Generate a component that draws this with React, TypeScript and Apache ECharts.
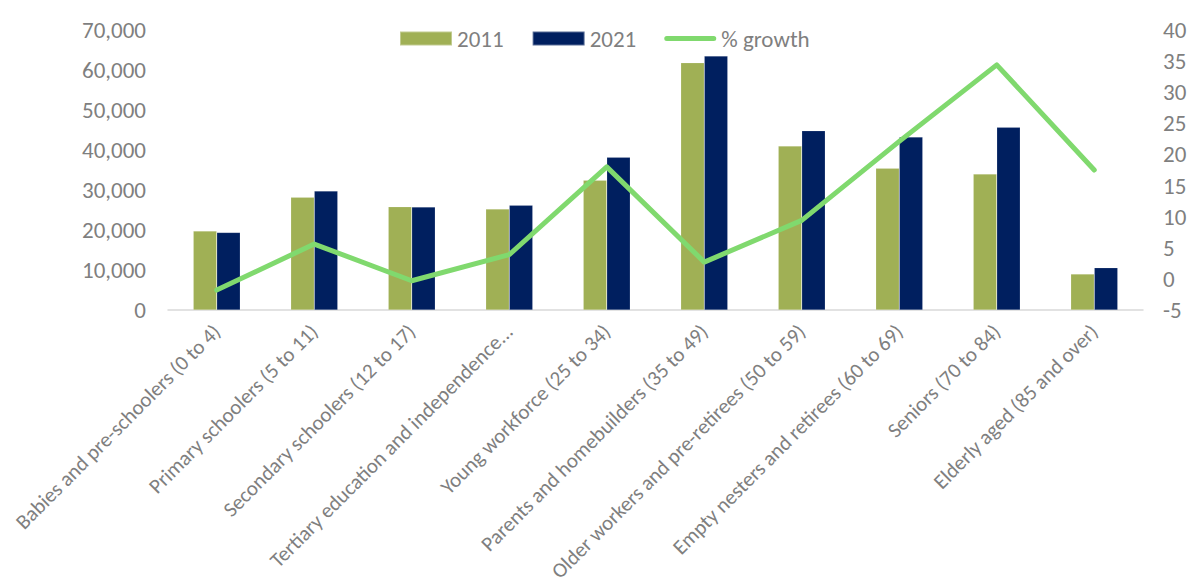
import React, { useEffect, useRef } from "react";
import * as echarts from "echarts";

const categories: string[] = [
  "Babies and pre-schoolers (0 to 4)",
  "Primary schoolers (5 to 11)",
  "Secondary schoolers (12 to 17)",
  "Tertiary education and independence (18 to 24)",
  "Young workforce (25 to 34)",
  "Parents and homebuilders (35 to 49)",
  "Older workers and pre-retirees (50 to 59)",
  "Empty nesters and retirees (60 to 69)",
  "Seniors (70 to 84)",
  "Elderly aged (85 and over)",
];

const values2011: number[] = [19750, 28170, 25830, 25250, 32420, 61830, 41000, 35420, 34000, 9000];
const values2021: number[] = [19400, 29750, 25750, 26170, 38170, 63500, 44830, 43250, 45670, 10580];
const growth: number[] = [-1.8, 5.6, -0.3, 3.9, 18.0, 2.7, 9.4, 22.1, 34.4, 17.5];

const leftTicks = { min: 0, max: 70000, interval: 10000 };
const rightTicks = { min: -5, max: 40, interval: 5 };

const FONT = "Carlito, Calibri, 'Open Sans', sans-serif";
const GRAY = "#7f7f7f";
const LINE_ICON = "path://M2.5,0 H49.5 A2.5,2.5 0 0 1 49.5,5 H2.5 A2.5,2.5 0 0 1 2.5,0 Z";

export default function App() {
  const ref = useRef<HTMLDivElement>(null);

  useEffect(() => {
    document.body.style.margin = "0";
    if (!ref.current) return;
    const chart = echarts.init(ref.current, null, { renderer: "svg" });
    chart.setOption({
      animation: false,
      backgroundColor: "#ffffff",
      textStyle: { fontFamily: FONT },
      legend: {
        left: 399,
        top: 27,
        padding: 0,
        itemWidth: 52,
        itemHeight: 14,
        itemGap: 28,
        textStyle: { fontFamily: FONT, fontSize: 23, color: GRAY },
        data: [
          { name: "2011", icon: "rect" },
          { name: "2021", icon: "rect" },
          { name: "% growth", icon: LINE_ICON, itemStyle: { color: "#80d96e" } },
        ],
      },
      grid: {
        left: 168,
        right: 45,
        top: 30,
        bottom: 276,
        containLabel: false,
        outerBoundsMode: "none",
      },
      xAxis: {
        type: "category",
        data: categories,
        axisLine: { show: true, lineStyle: { color: "#d9d9d9", width: 1.5 } },
        axisTick: { show: false },
        axisLabel: {
          rotate: 45,
          interval: 0,
          margin: 18,
          fontSize: 21,
          color: GRAY,
          fontFamily: FONT,
          formatter: (name: string) =>
            name.length > 42 ? name.slice(0, name.indexOf("(")).trim() + "..." : name,
        },
      },
      yAxis: [
        {
          type: "value",
          ...leftTicks,
          splitLine: { show: false },
          axisLine: { show: false },
          axisTick: { show: false },
          axisLabel: {
            fontSize: 23,
            color: GRAY,
            margin: 22,
            fontFamily: FONT,
            formatter: (v: number) => v.toLocaleString("en-US"),
          },
        },
        {
          type: "value",
          ...rightTicks,
          position: "right",
          splitLine: { show: false },
          axisLine: { show: false },
          axisTick: { show: false },
          axisLabel: {
            fontSize: 23,
            color: GRAY,
            margin: 20,
            fontFamily: FONT,
          },
        },
      ],
      series: [
        {
          name: "2011",
          type: "bar",
          data: values2011,
          barWidth: 23.5,
          barGap: "0%",
          itemStyle: { color: "#a0b055", borderColor: "rgba(255,255,255,0.35)", borderWidth: 0.5 },
        },
        {
          name: "2021",
          type: "bar",
          data: values2021,
          barWidth: 23.5,
          barGap: "0%",
          itemStyle: { color: "#001f5f", borderColor: "rgba(255,255,255,0.35)", borderWidth: 0.5 },
        },
        {
          name: "% growth",
          type: "line",
          yAxisIndex: 1,
          data: growth,
          symbol: "none",
          showSymbol: false,
          lineStyle: { color: "#80d96e", width: 5, cap: "round", join: "round" },
          itemStyle: { color: "#80d96e" },
        },
      ],
    });
    return () => chart.dispose();
  }, []);

  return <div ref={ref} style={{ width: 1188, height: 586 }} />;
}
